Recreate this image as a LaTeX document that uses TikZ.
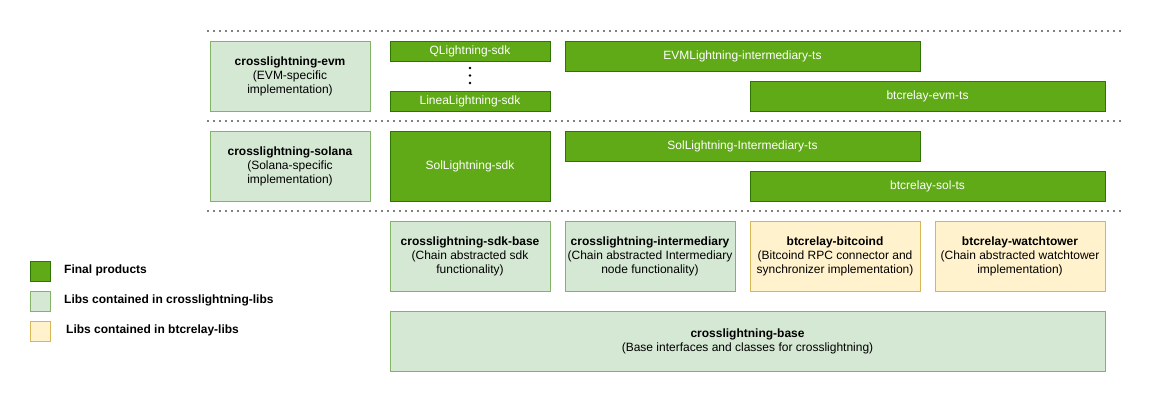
\documentclass[tikz,border=0pt]{standalone}
\usepackage{fontspec}
\setmainfont{Liberation Sans}
\definecolor{finalfill}{HTML}{60A917}
\definecolor{finaldraw}{HTML}{2D7600}
\definecolor{libfill}{HTML}{D5E8D4}
\definecolor{libdraw}{HTML}{82B366}
\definecolor{btcfill}{HTML}{FFF2CC}
\definecolor{btcdraw}{HTML}{D6B656}

\tikzset{
  box/.style={rectangle, line width=0.8pt, align=center, inner sep=0pt,
    font=\fontsize{12}{14}\selectfont},
  final/.style={box, fill=finalfill, draw=finaldraw, text=white},
  lib/.style={box, fill=libfill, draw=libdraw, text=black},
  btclib/.style={box, fill=btcfill, draw=btcdraw, text=black},
  layerline/.style={line width=1.8pt, dash pattern=on 0pt off 6pt, line cap=round},
  legendtext/.style={anchor=west, inner sep=0pt, font=\fontsize{12}{14}\selectfont\bfseries},
}

\begin{document}
\begin{tikzpicture}[x=1pt, y=-1pt]
    \useasboundingbox (0,0) rectangle (1153,402);
    % Layer separators
    \draw[layerline] (208,31) -- (1120,31);
    \draw[layerline] (208,121) -- (1120,121);
    \draw[layerline] (208,211) -- (1120,211);

    % EVM layer
    \node[lib, minimum width=160, minimum height=70] (evm) at (290,76)
        {\textbf{crosslightning-evm}\\(EVM-specific\\implementation)};
    \node[final, minimum width=160, minimum height=20] (qsdk) at (470,51) {QLightning-sdk};
    \node[final, minimum width=160, minimum height=20] (lineasdk) at (470,101) {LineaLightning-sdk};
    % Dots between the sdks
    \fill (470,68) circle (1.3) (470,75.5) circle (1.3) (470,83) circle (1.3);
    \node[final, minimum width=355, minimum height=30] (evminter) at (742.5,56) {EVMLightning-intermediary-ts};
    \node[final, minimum width=355, minimum height=30] (evmrelay) at (927.5,96) {btcrelay-evm-ts};

    % Solana layer
    \node[lib, minimum width=160, minimum height=70] (solana) at (290,166)
        {\textbf{crosslightning-solana}\\(Solana-specific\\implementation)};
    \node[final, minimum width=160, minimum height=70] (solsdk) at (470,166) {SolLightning-sdk};
    \node[final, minimum width=355, minimum height=30] (solinter) at (742.5,146) {SolLightning-Intermediary-ts};
    \node[final, minimum width=355, minimum height=30] (solrelay) at (927.5,186) {btcrelay-sol-ts};

    % Shared libs
    \node[lib, minimum width=160, minimum height=70] (sdkbase) at (470,256)
        {\textbf{crosslightning-sdk-base}\\(Chain abstracted sdk\\functionality)};
    \node[lib, minimum width=170, minimum height=70] (interbase) at (650,256)
        {\textbf{crosslightning-intermediary}\\(Chain abstracted Intermediary\\node functionality)};
    \node[btclib, minimum width=170, minimum height=70] (bitcoind) at (835,256)
        {\textbf{btcrelay-bitcoind}\\(Bitcoind RPC connector and\\synchronizer implementation)};
    \node[btclib, minimum width=170, minimum height=70] (watchtower) at (1020,256)
        {\textbf{btcrelay-watchtower}\\(Chain abstracted watchtower\\implementation)};
    \node[lib, minimum width=715, minimum height=60] (base) at (747.5,341)
        {\textbf{crosslightning-base}\\(Base interfaces and classes for crosslightning)};

    % Legend
    \node[final, minimum size=20] (keyfinal) at (40,271) {};
    \node[lib, minimum size=20] (keylib) at (40,301) {};
    \node[btclib, minimum size=20] (keybtc) at (40,331) {};
    \node[legendtext] (keyfinaltext) at (64,270) {Final products};
    \node[legendtext] (keylibtext) at (64,300) {Libs contained in crosslightning-libs};
    \node[legendtext] (keybtctext) at (66,330) {Libs contained in btcrelay-libs};
\end{tikzpicture}
\end{document}
